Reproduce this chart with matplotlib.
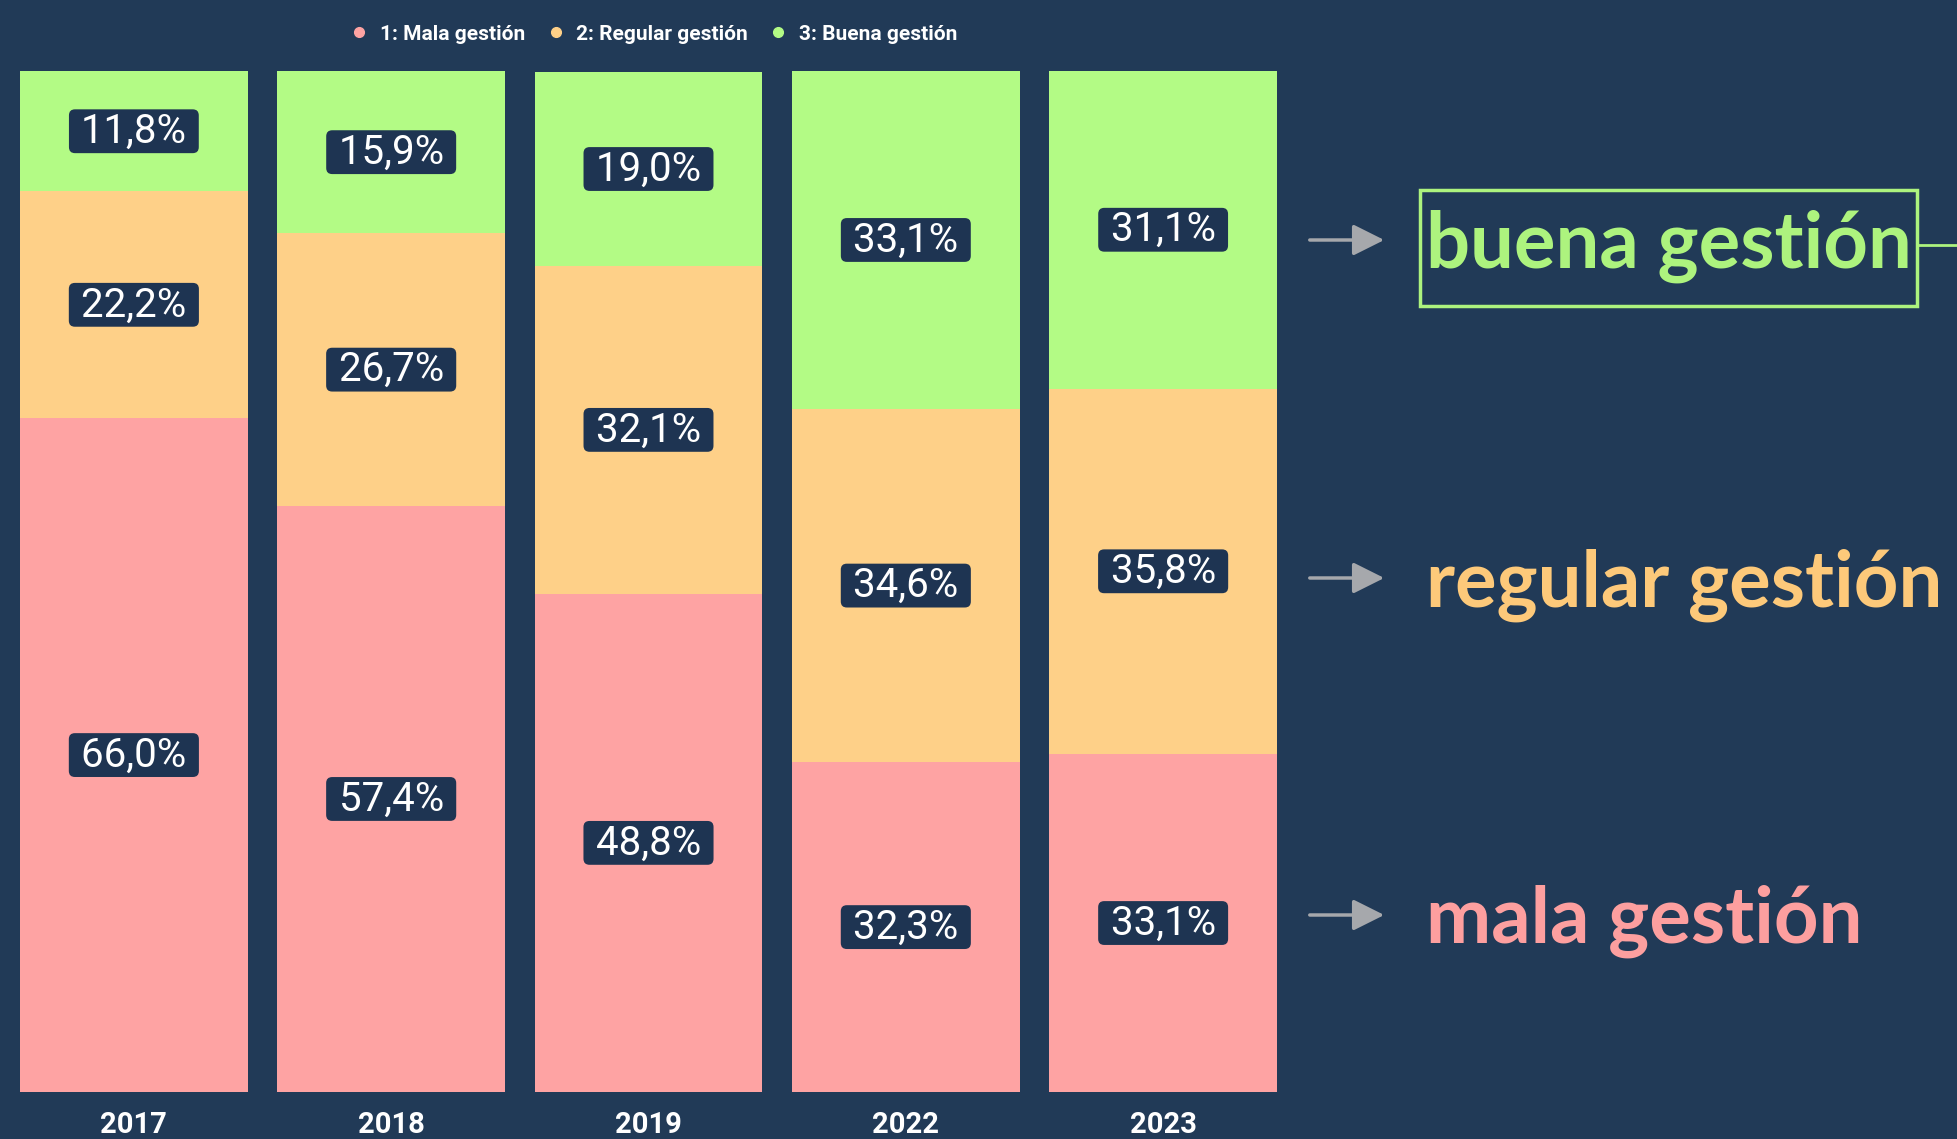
import matplotlib
matplotlib.use("Agg")
import numpy as np
import matplotlib.pyplot as plt
from matplotlib.lines import Line2D
from matplotlib.patches import Rectangle

# data (% of answers per year)
years = ["2017", "2018", "2019", "2022", "2023"]
mala = [66.0, 57.4, 48.8, 32.3, 33.1]
regular = [22.2, 26.7, 32.1, 34.6, 35.8]
buena = [11.8, 15.9, 19.0, 33.1, 31.1]
legend_labels = ["1: Mala gestión", "2: Regular gestión", "3: Buena gestión"]
side_labels = ["mala gestión", "regular gestión", "buena gestión"]

bg = "#213a57"
bar_colors = ["#fea3a3", "#fed088", "#b3fb85"]
side_colors = ["#fd9f9f", "#fdc97a", "#adf37e"]
label_bg = "#1e3452"
arrow_col = "#a6a8ac"

W, H = 1957, 1139
fig = plt.figure(figsize=(W / 100, H / 100), dpi=100, facecolor=bg)
ax = fig.add_axes([20 / W, 1 - 1092 / H, (1277 - 20) / W, (1092 - 71) / H])
ax.set_facecolor(bg)

x = np.arange(len(years))
width = 0.885
bottom = np.zeros(len(years))
for vals, c in zip([mala, regular, buena], bar_colors):
    vals = np.array(vals)
    ax.bar(x, vals, width, bottom=bottom, color=c, edgecolor="none")
    for xi, b, v in zip(x, bottom, vals):
        # spaces give the wider-than-tall label box of the original
        lbl = " " + f"{v:.1f}%".replace(".", ",") + " "
        ax.text(xi, b + v / 2, lbl, ha="center", va="center",
                color="white", fontsize=29, family="Roboto",
                bbox=dict(boxstyle="round,pad=0.06,rounding_size=0.15", fc=label_bg, ec="none"))
    bottom += vals

ax.set_xlim(-width / 2, len(years) - 1 + width / 2)
ax.set_ylim(0, 100)
ax.set_xticks(x, years)
ax.set_yticks([])
ax.tick_params(axis="x", length=0, pad=14, colors="white", labelsize=21)
for t in ax.get_xticklabels():
    t.set_family("Roboto")
    t.set_fontweight("bold")
for s in ax.spines.values():
    s.set_visible(False)

# legend on top
handles = [Line2D([], [], marker="o", ls="", color=c, markersize=7) for c in bar_colors]
fig.legend(handles, legend_labels, loc="center", bbox_to_anchor=(648 / W, 1 - 34 / H), ncol=3,
           frameon=False, handletextpad=0.0, columnspacing=0.45, labelcolor="white",
           prop=dict(family="Roboto", weight="bold", size=15))

# annotations on the right
text_y = [921, 585, 246]
arrow_y = [915, 578, 240]
for lbl, tc, ty, ay in zip(side_labels, side_colors, text_y, arrow_y):
    fig.text(1426 / W, 1 - ty / H, lbl, color=tc, fontsize=56, family="Lato",
             weight="bold", ha="left", va="center")
    ax.annotate("", xy=(1387 / W, 1 - ay / H), xytext=(1307 / W, 1 - ay / H),
                xycoords="figure fraction", textcoords="figure fraction",
                arrowprops=dict(arrowstyle="-|>", color=arrow_col, lw=2.5, mutation_scale=48),
                annotation_clip=False)

# highlight box round "buena gestión"
fig.add_artist(Rectangle((1420 / W, 1 - 306 / H), (1917 - 1420) / W, (306 - 190) / H,
                         transform=fig.transFigure, fill=False, ec=side_colors[2], lw=2.5))
fig.add_artist(Line2D([1917 / W, 1.0], [1 - 245 / H, 1 - 245 / H], transform=fig.transFigure,
                      color=side_colors[2], lw=2))

fig.savefig("out.png", dpi=100, facecolor=bg)
